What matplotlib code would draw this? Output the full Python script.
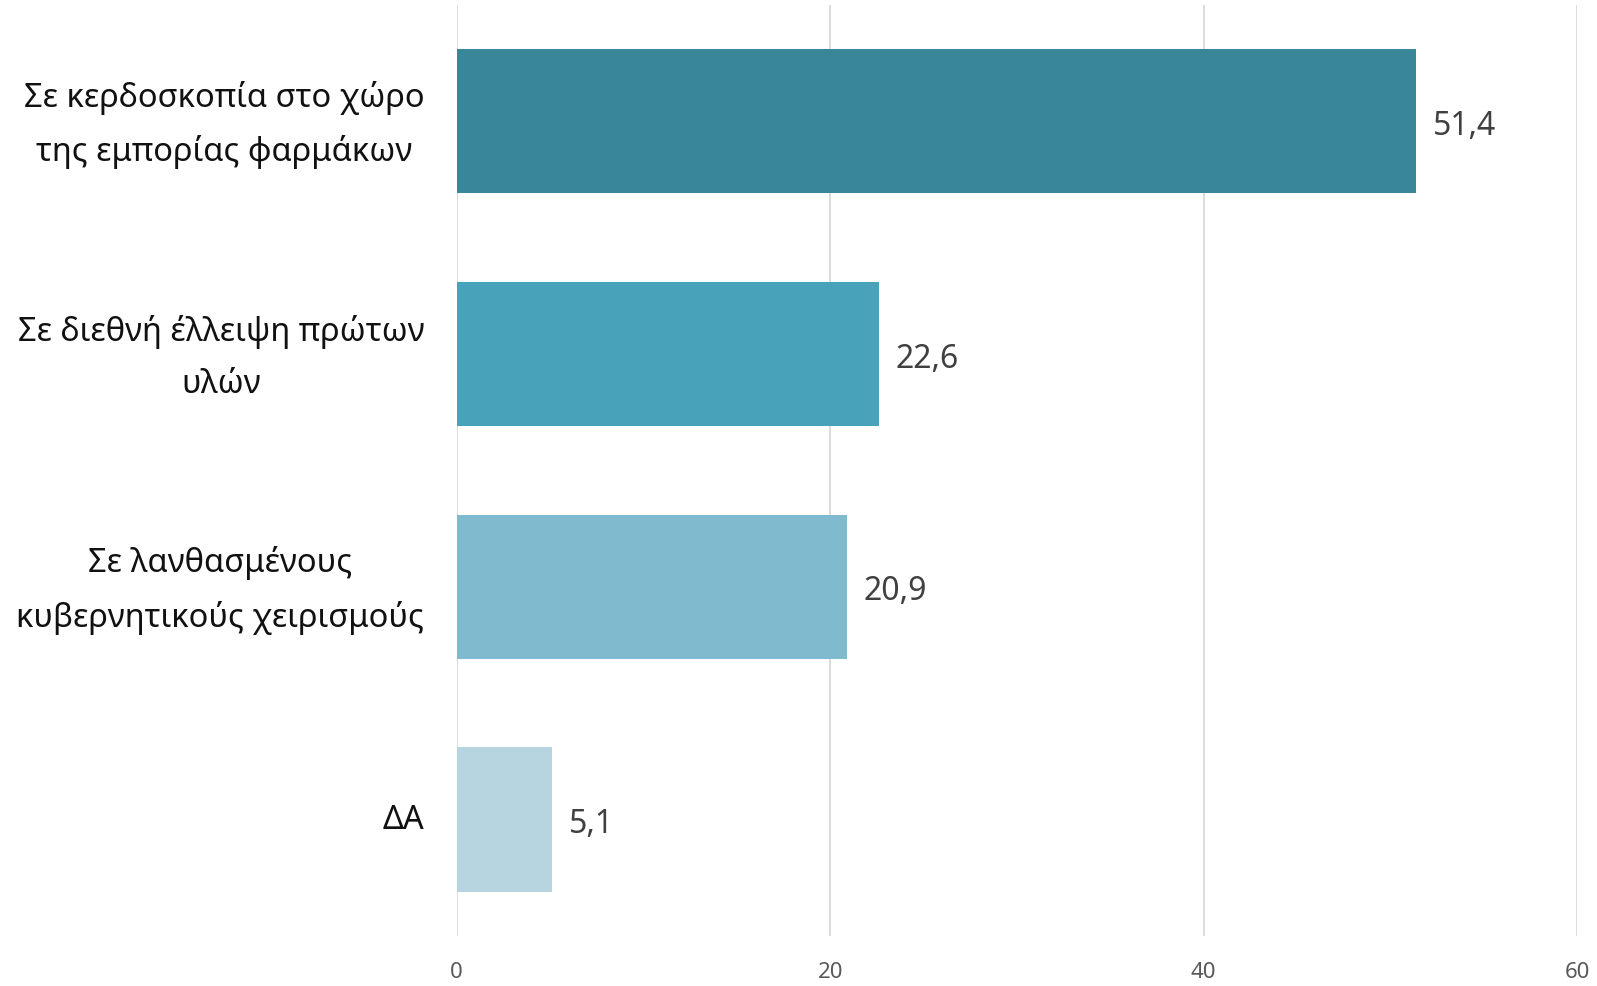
import matplotlib.pyplot as plt
from matplotlib.transforms import offset_copy

categories = [
    "Σε κερδοσκοπία στο χώρο\nτης εμπορίας φαρμάκων",
    "Σε διεθνή έλλειψη πρώτων\nυλών",
    "Σε λανθασμένους\nκυβερνητικούς χειρισμούς",
    "ΔΑ",
]
values = [51.4, 22.6, 20.9, 5.1]
colors = ["#3A8699", "#48A2B9", "#7FBACF", "#B7D5E0"]
xticks = [0, 20, 40, 60]

plt.rcParams['font.family'] = ['Noto Sans', 'DejaVu Sans']

fig = plt.figure(figsize=(15.97, 9.87), dpi=100)
ax = fig.add_axes([0.286, 0.0507, 0.7015, 0.9433])

y = range(len(categories))
ax.barh(y, values, height=0.62, color=colors, zorder=3)
ax.set_ylim(len(categories) - 0.5, -0.5)
ax.set_xlim(0, 60)

# value labels, nudged down a little
val_tr = offset_copy(ax.transData, fig=fig, y=-3, units="points")
for i, v in enumerate(values):
    ax.text(v + 0.9, i, f"{v:.1f}".replace(".", ","), va="center", ha="left",
            fontsize=23, color="#404040", transform=val_tr)

# category labels: block right-aligned, lines centred
ax.set_yticks(list(y))
ax.set_yticklabels([])
ax.tick_params(axis="y", length=0)
for i, lab in enumerate(categories):
    dy = -2 if "\n" in lab else 0
    tr = offset_copy(ax.get_yaxis_transform(), fig=fig, y=dy, units="points")
    ax.text(-0.029, i, lab, transform=tr, ha="right", va="center",
            multialignment="center", fontsize=23.5, color="#111111",
            linespacing=1.78)

ax.set_xticks(xticks)
ax.set_xticklabels([str(t) for t in xticks], fontsize=16, color="#595959")
ax.tick_params(axis="x", length=0, pad=18)

ax.grid(axis="x", color="#D9D9D9", linewidth=1.3, zorder=0)
for s in ax.spines.values():
    s.set_visible(False)

fig.savefig("out.png", dpi=100)
